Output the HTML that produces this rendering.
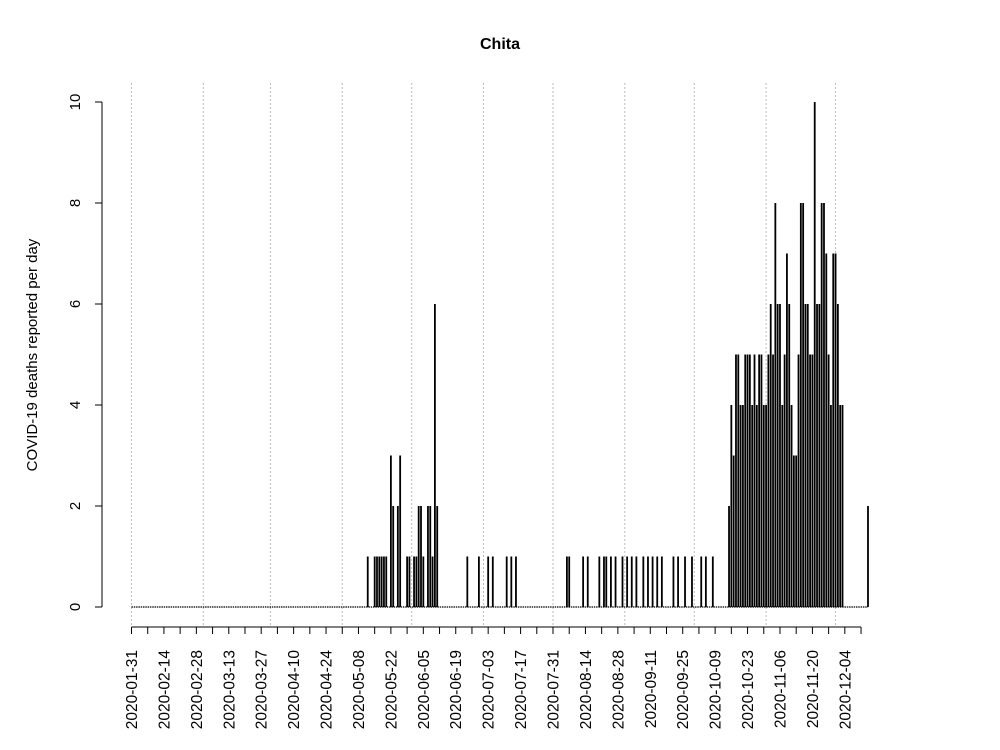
<!DOCTYPE html>
<html><head><meta charset="utf-8"><style>
html,body{margin:0;padding:0;background:#fff;}
svg{display:block;font-family:"Liberation Sans",sans-serif;}
</style></head><body>
<svg id="chart" width="1000" height="750" viewBox="0 0 1000 750" xmlns="http://www.w3.org/2000/svg">
<text x="500" y="49" text-anchor="middle" font-size="16" font-weight="bold">Chita</text>
<text transform="translate(37,355) rotate(-90)" text-anchor="middle" font-size="15">COVID-19 deaths reported per day</text>
<g id="grid"></g><g id="bars"></g><g id="axes"></g>
</svg>
<script>
const startDate = "2020-01-31";
const dayOffsets = [102,105,106,107,108,109,110,112,113,115,116,119,120,122,123,124,125,126,128,129,130,131,132,
145,150,154,156,162,164,166,188,189,195,197,202,204,205,207,209,212,214,216,218,221,223,225,227,229,234,236,239,242,246,248,251,
258,259,260,261,262,263,264,265,266,267,268,269,270,271,272,273,274,275,276,277,278,279,280,281,282,283,284,285,286,287,288,289,290,291,292,293,294,295,296,297,298,299,300,301,302,303,304,305,306,307,318];
const deaths = [1,1,1,1,1,1,1,3,2,2,3,1,1,1,1,2,2,1,2,2,1,6,2,
1,1,1,1,1,1,1,1,1,1,1,1,1,1,1,1,1,1,1,1,1,1,1,1,1,1,1,1,1,1,1,1,
2,4,3,5,5,4,4,5,5,5,4,5,4,5,5,4,4,5,6,5,8,6,6,4,5,7,6,4,3,3,5,8,8,6,6,5,5,10,6,6,8,8,7,5,4,7,7,6,4,4,2];
const totalDays = 318;
const yTicks = [0,2,4,6,8,10];
const gridDays = [0,31,60,91,121,152,182,213,243,274,304];
const tickStepDays = 7;

const NS="http://www.w3.org/2000/svg";
const X0=131.5, PXD=2.316, Y0=607, PYU=50.5;
const xs=d=>X0+d*PXD, ys=v=>Y0-v*PYU;
function mk(tag,attrs,parent){const e=document.createElementNS(NS,tag);for(const k in attrs)e.setAttribute(k,attrs[k]);parent.appendChild(e);return e;}
const grid=document.getElementById('grid'),bars=document.getElementById('bars'),axes=document.getElementById('axes');
gridDays.forEach(d=>{const l=mk('line',{x1:xs(d),x2:xs(d),y1:83,y2:627,stroke:'#bbb','stroke-width':1,'stroke-dasharray':'2,2'},grid);

});
const base=mk('line',{x1:xs(0),x2:xs(totalDays),y1:Y0,y2:Y0,stroke:'#000','stroke-width':1.2,'stroke-dasharray':'1.5,0.8'},bars);


dayOffsets.forEach((d,i)=>{const l=mk('line',{x1:xs(d),x2:xs(d),y1:Y0,y2:ys(deaths[i]),stroke:'#000','stroke-width':1.8},bars);

});
const ya=mk('line',{x1:102,x2:102,y1:ys(0),y2:ys(10),stroke:'#000'},axes);


yTicks.forEach(v=>{mk('line',{x1:95,x2:102,y1:ys(v),y2:ys(v),stroke:'#000'},axes);
const t=mk('text',{transform:`translate(80,${ys(v)}) rotate(-90)`,'text-anchor':'middle','font-size':15},axes);t.textContent=v;

});
const nT=45;
const xa=mk('line',{x1:xs(0),x2:xs(nT*tickStepDays),y1:627,y2:627,stroke:'#000'},axes);


const sd=new Date(startDate+"T00:00:00Z");
for(let k=0;k<=nT;k++){const d=k*tickStepDays;mk('line',{x1:xs(d),x2:xs(d),y1:627,y2:634,stroke:'#000'},axes);
if(k%2===0){const dt=new Date(sd.getTime()+d*86400000);const s=dt.toISOString().slice(0,10);
const t=mk('text',{transform:`translate(${xs(d)+5.5},650) rotate(-90)`,'text-anchor':'end','font-size':15.5},axes);t.textContent=s;

}}
</script>
</body></html>
